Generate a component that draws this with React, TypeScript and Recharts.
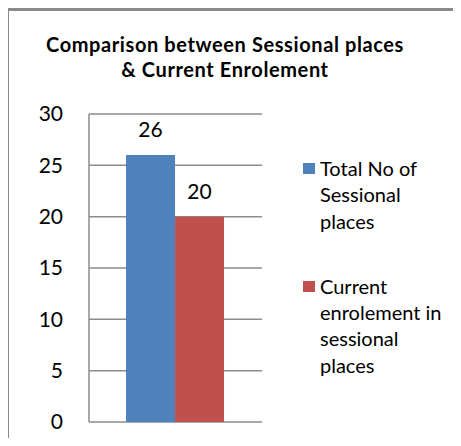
import React from "react"
import { BarChart, Bar, XAxis, YAxis, CartesianGrid, Legend, LabelList } from "recharts"

const categories = ["Sessional places"]
const totalPlaces = [26]
const currentEnrolement = [20]
const yTicks = [0, 5, 10, 15, 20, 25, 30]
const seriesOrder = ["total", "current"]

const data = categories.map((name, i) => ({
  name,
  total: totalPlaces[i],
  current: currentEnrolement[i],
}))

const font = "Lato, 'Open Sans', sans-serif"

const renderLegend = (props: any) => {
  const items = [...props.payload].sort(
    (a: any, b: any) => seriesOrder.indexOf(a.dataKey) - seriesOrder.indexOf(b.dataKey)
  )
  return (
    <div style={{ fontFamily: font, fontSize: 20, lineHeight: "26.3px", color: "#000" }}>
      {items.map((entry: any, i: number) => (
        <div key={i} style={{ display: "flex", alignItems: "flex-start", marginBottom: 39 }}>
          <span
            style={{
              display: "inline-block",
              width: 12,
              height: 11,
              background: entry.color,
              marginTop: 8,
              marginRight: 5,
              flex: "none",
            }}
          />
          <span style={{ width: 128 }}>{entry.value}</span>
        </div>
      ))}
    </div>
  )
}

export default function App() {
  return (
    <div style={{ margin: -8, width: 461, height: 446, overflow: "hidden", position: "relative", background: "#fff" }}>
      <div
        style={{
          position: "absolute",
          left: 6,
          top: 8,
          width: 500,
          height: 500,
          border: "3px solid #8a8a8a",
        }}
      />
      <div
        style={{
          position: "absolute",
          left: 0,
          width: 450,
          top: 32,
          textAlign: "center",
          fontFamily: font,
          fontWeight: 700,
          fontSize: 20,
          letterSpacing: 0.6,
          lineHeight: "25px",
          color: "#000",
        }}
      >
        Comparison between Sessional places
        <br />& Current Enrolement
      </div>
      <div style={{ position: "absolute", left: 0, top: 0 }}>
        <BarChart
          width={461}
          height={446}
          data={data}
          margin={{ top: 114, right: 199, bottom: 24, left: 0 }}
          barCategoryGap="21.4%"
          barGap={0}
        >
          <CartesianGrid vertical={false} stroke="#8c8c8c" strokeWidth={1.5} />
          <XAxis dataKey="name" hide />
          <YAxis
            width={89}
            domain={[0, 30]}
            ticks={yTicks}
            interval={0}
            tickLine={false}
            axisLine={{ stroke: "#8c8c8c", strokeWidth: 1.5 }}
            tickMargin={20}
            tick={{ fill: "#000", fontSize: 21, fontFamily: font }}
          />
          <Legend
            layout="vertical"
            align="center"
            verticalAlign="middle"
            content={renderLegend}
            wrapperStyle={{ left: 303, top: 155, width: 155 }}
          />
          <Bar dataKey="total" name="Total No of Sessional places" fill="#4F81BD" isAnimationActive={false}>
            <LabelList dataKey="total" position="top" offset={18} fill="#000" fontSize={21} fontFamily={font} />
          </Bar>
          <Bar dataKey="current" name="Current enrolement in sessional places" fill="#C0504D" isAnimationActive={false}>
            <LabelList dataKey="current" position="top" offset={18} fill="#000" fontSize={21} fontFamily={font} />
          </Bar>
        </BarChart>
      </div>
    </div>
  )
}
